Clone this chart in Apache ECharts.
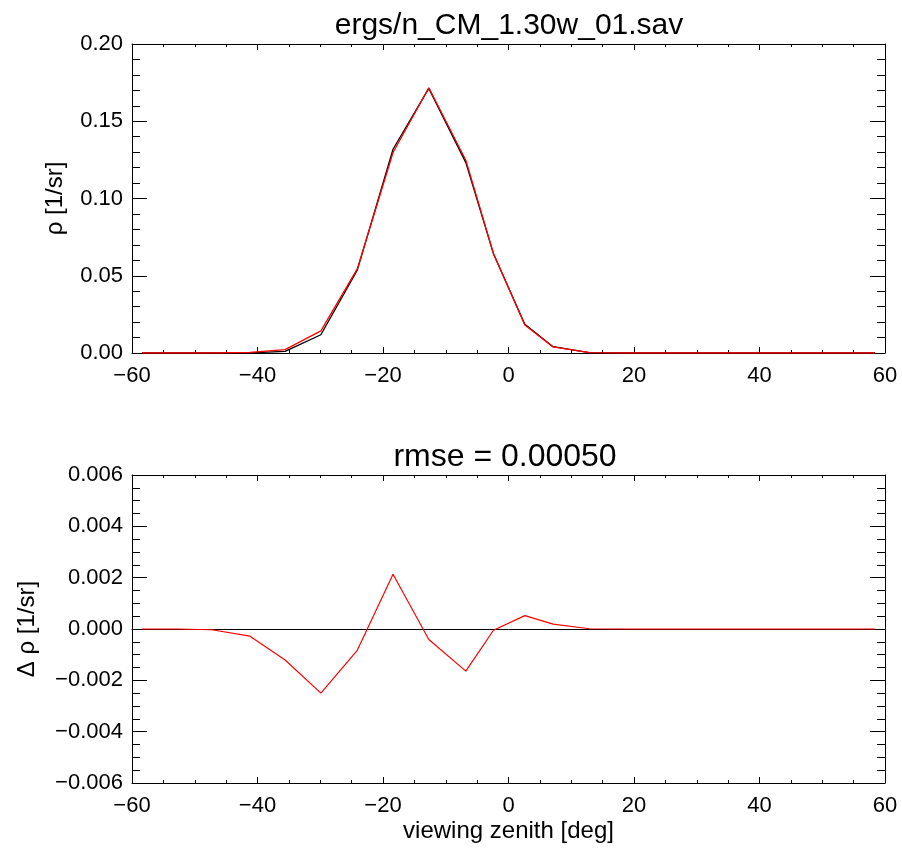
<!DOCTYPE html>
<html>
<head>
<meta charset="utf-8">
<title>ergs/n_CM_1.30w_01.sav</title>
<script src="https://cdn.jsdelivr.net/npm/echarts@6/dist/echarts.min.js"></script>
<style>
  html, body { margin: 0; padding: 0; background: #fff; }
  #chart { width: 902px; height: 850px; }
</style>
</head>
<body>
<div id="chart"></div>
<script>
// viewing zenith angles [deg]
var zenith = [-58.4, -52.9, -47.3, -41.2, -35.6, -29.9, -24.1, -18.4, -12.7, -6.8, -2.4, 2.6, 7.1, 12.9,
              18.4, 24.1, 29.9, 35.6, 41.2, 47.3, 52.9, 58.4];
// measured rho (black)
var rhoObs = [0, 0, 0, 0.0001, 0.0010, 0.0118, 0.0536, 0.1319, 0.1713, 0.1232, 0.0643, 0.0186, 0.0041, 0.0003,
              0, 0, 0, 0, 0, 0, 0, 0];
// fitted rho (red)
var rhoFit = [0, 0, 0, 0.0004, 0.0022, 0.0143, 0.0544, 0.1298, 0.1717, 0.1248, 0.0644, 0.0181, 0.0039, 0.0003,
              0, 0, 0, 0, 0, 0, 0, 0];
// difference (red, lower panel)
var rhoDiff = [0, 0, -0.00003, -0.00028, -0.00121, -0.00250, -0.00083, 0.00213, -0.00041, -0.00164, -0.00005,
               0.00052, 0.00019, 0.00001, 0, 0, 0, 0, 0, 0, 0, 0];

var xTicks = { min: -60, max: 60, interval: 20 };
var topTitle = 'ergs/n_CM_1.30w_01.sav';
var bottomTitle = 'rmse = 0.00050';

function pairs(xs, ys) {
  return xs.map(function (x, i) { return [x, ys[i]]; });
}
function minus(s) { return String(s).replace('-', '\u2212'); }

var FONT = '"Liberation Sans", Arial, Helvetica, sans-serif';

function xAx(grid, pos, labels, name) {
  return {
    type: 'value', gridIndex: grid, position: pos,
    min: xTicks.min, max: xTicks.max, interval: xTicks.interval,
    axisLine: { show: true, onZero: false, lineStyle: { color: '#000', width: 1 } },
    axisTick: { show: true, inside: true, length: 6, lineStyle: { color: '#000' } },
    minorTick: { show: true, splitNumber: 4, length: 3, lineStyle: { color: '#000' } },
    splitLine: { show: false },
    axisLabel: { show: labels, color: '#000', fontSize: 22, fontFamily: FONT, margin: 12,
                 formatter: function (v) { return minus(v); } },
    name: name || '', nameLocation: 'middle', nameGap: 36,
    nameTextStyle: { color: '#000', fontSize: 24, fontFamily: FONT }
  };
}
function yAx(grid, pos, labels, min, max, step, minor, digits, name, gap) {
  return {
    type: 'value', gridIndex: grid, position: pos,
    min: min, max: max, interval: step,
    axisLine: { show: true, onZero: false, lineStyle: { color: '#000', width: 1 } },
    axisTick: { show: true, inside: true, length: 15, lineStyle: { color: '#000' } },
    minorTick: { show: true, splitNumber: minor, length: 8, lineStyle: { color: '#000' } },
    splitLine: { show: false },
    axisLabel: { show: labels, color: '#000', fontSize: 22, fontFamily: FONT, margin: 9,
                 formatter: function (v) { return minus(v.toFixed(digits)); } },
    name: name || '', nameLocation: 'middle', nameRotate: 90, nameGap: gap || 0,
    nameTextStyle: { color: '#000', fontSize: 24, fontFamily: FONT }
  };
}

// zero reference line of the lower panel, drawn as an axis line sitting on y = 0
var zeroAxis = {
  type: 'value', gridIndex: 1, min: xTicks.min, max: xTicks.max,
  axisLine: { show: true, onZero: true, onZeroAxisIndex: 2, lineStyle: { color: '#000', width: 1 } },
  axisTick: { show: false }, axisLabel: { show: false }, splitLine: { show: false }
};

var chart = echarts.init(document.getElementById('chart'), null, { renderer: 'canvas' });
chart.setOption({
  backgroundColor: '#fff',
  animation: false,
  title: [
    { text: topTitle, left: 504, top: 6, textAlign: 'center',
      textStyle: { color: '#000', fontSize: 30, fontWeight: 'normal', fontFamily: FONT } },
    { text: bottomTitle, left: 500, top: 436, textAlign: 'center',
      textStyle: { color: '#000', fontSize: 32, fontWeight: 'normal', fontFamily: FONT } }
  ],
  grid: [
    { left: 132, top: 44, width: 753, height: 309 },
    { left: 132, top: 475, width: 753, height: 308 }
  ],
  xAxis: [
    xAx(0, 'bottom', true),
    xAx(0, 'top', false),
    xAx(1, 'bottom', true, 'viewing zenith [deg]'),
    xAx(1, 'top', false),
    zeroAxis
  ],
  yAxis: [
    yAx(0, 'left', true, 0, 0.2, 0.05, 5, 2, '\u03c1 [1/sr]', 65),
    yAx(0, 'right', false, 0, 0.2, 0.05, 5, 2),
    yAx(1, 'left', true, -0.006, 0.006, 0.002, 4, 3, '\u0394 \u03c1 [1/sr]', 93),
    yAx(1, 'right', false, -0.006, 0.006, 0.002, 4, 3)
  ],
  series: [
    { type: 'line', xAxisIndex: 0, yAxisIndex: 0, data: pairs(zenith, rhoObs), z: 2,
      symbol: 'none', lineStyle: { color: '#000', width: 1.3 } },
    { type: 'line', xAxisIndex: 0, yAxisIndex: 0, data: pairs(zenith, rhoFit), z: 3,
      symbol: 'none', lineStyle: { color: '#ff0000', width: 1.3 } },
    { type: 'line', xAxisIndex: 2, yAxisIndex: 2, data: pairs(zenith, rhoDiff), z: 3,
      symbol: 'none', lineStyle: { color: '#ff0000', width: 1.2 } }
  ]
});
</script>
</body>
</html>
